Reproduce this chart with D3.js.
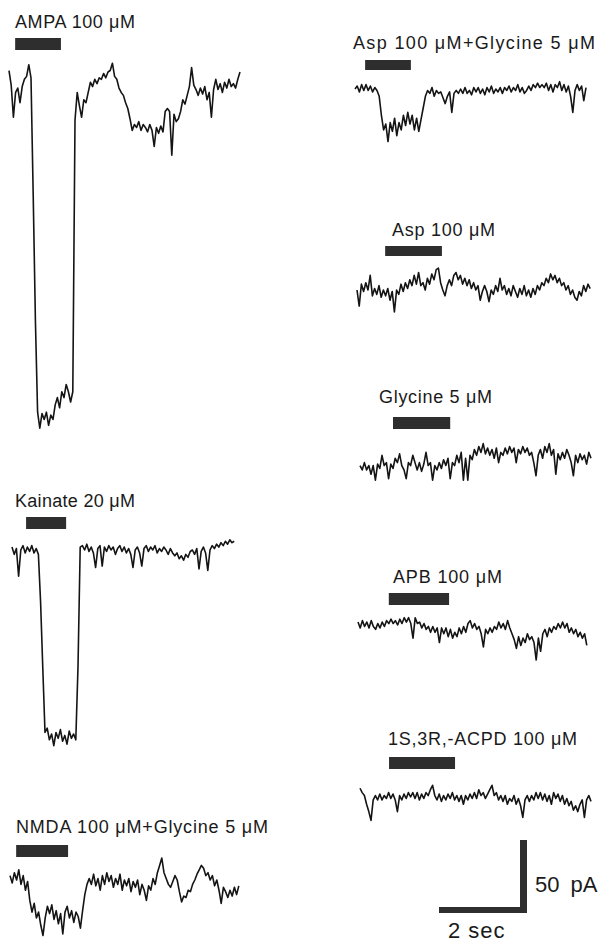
<!DOCTYPE html>
<html>
<head>
<meta charset="utf-8">
<script src="https://cdn.jsdelivr.net/npm/d3@7/dist/d3.min.js"></script>
<style>
  body { margin: 0; background: #fff; }
  .trace { fill: none; stroke: #141414; stroke-width: 1.6; stroke-linejoin: round; }
  .application { fill: #2e2e2e; }
  .scale-bar { fill: #2e2e2e; }
  .label { font-family: 'Liberation Sans', Arial, Helvetica, sans-serif; font-size: 18px; fill: #1a1a1a; }
  .scale-label { font-family: 'Liberation Sans', Arial, Helvetica, sans-serif; font-size: 22px; fill: #1a1a1a; }
</style>
</head>
<body>
<div id="chart"></div>
<script>
// Whole-cell currents, pA (inward = negative), one sample every 50 ms.
var SAMPLE_INTERVAL = 0.05;

var AMPA_TRACE = [1, -9, -31, -14, -11, -21, -10, -5, -3, 5,
  -4, -84, -170, -233, -244, -234, -238, -233, -242, -235,
  -238, -228, -223, -230, -219, -223, -214, -219, -226, -219,
  -33, -14, -23, -31, -19, -21, -14, -7, -10, -5,
  -8, -4, -5, -1, -4, 0, 1, 6, -3, -5,
  -11, -14, -16, -21, -25, -32, -40, -36, -38, -34,
  -40, -36, -38, -41, -36, -40, -51, -38, -42, -37,
  -41, -27, -25, -27, -57, -29, -34, -32, -27, -19,
  -22, -16, -10, 3, -9, -12, -16, -11, -15, -10,
  -19, -14, -31, -12, -5, -12, -8, -14, -7, -11,
  -5, -10, -8, -11, -5, 0];

var KAINATE_TRACE = [2, -3, 1, -18, 0, 3, -2, 2, -1, 3, -2, 1,
  -3, -36, -81, -125,
  -122, -130, -126, -134, -125, -129, -123, -131, -127, -133, -124, -129, -126, -130,
  -80, 2,
  3, 0, 4, -1, 2, -2, -12, 1, 3, -11,
  2, -1, 3, 0, 2, -3, 1, 3, -1, 2,
  -2, 1, -3, -12, 0, 2, -2, -11, 1, 3,
  -1, 2, 0, 3, -2, 1, -1, 2, 0, -3,
  1, -2, -4, -2, -6, -4, -7, -3, -5, -1,
  0, -3, 1, -13, -1, 2, -2, -14, 0, 3,
  1, 4, 2, 5, 3, 6, 4, 7, 5, 6];

var NMDA_TRACE = [3, -2, 5, 0, 7, -3, 3, -7, -1, -14,
  -22, -16, -26, -22, -31, -38, -26, -18, -23, -17,
  -27, -21, -30, -23, -37, -22, -18, -26, -21, -29,
  -22, -25, -33, -21, -10, -3, 1, -3, 4, -4,
  1, -7, 3, -3, 5, -1, 3, -5, 1, -3,
  4, -7, 0, -4, 1, -8, -1, -5, 0, -10,
  -3, -7, -14, -4, -7, 1, -3, 5, 10, 15,
  5, 1, -3, -5, -1, 3, 0, -8, -15, -11,
  -12, -7, -8, -3, 0, 4, 7, 10, 8, 3,
  5, 0, 3, -4, 0, -7, -16, -5, -8, -12,
  -7, -11, -5, -10, -4];

var ASP_GLY_TRACE = [0, 2, -2, 3, -1, 3, -1, 2, -2, 1,
  -1, -5, -18, -28, -24, -36, -23, -29, -20, -32,
  -23, -28, -18, -25, -16, -24, -18, -28, -20, -29,
  -21, -13, -5, -1, -3, 1, -5, -1, -3, -2,
  -6, -10, -5, -2, -16, -3, -1, -3, 0, -3,
  1, -3, -1, -4, 1, -2, 1, -3, 0, -4,
  1, -2, 2, -3, 0, -2, 1, -3, 1, -1,
  2, -2, 1, -1, 3, -2, 1, -3, -1, 2,
  -1, 3, 1, 4, 1, 3, 1, 4, -1, 3,
  -2, 3, 1, 5, -1, 3, -2, 2, -5, -16,
  -1, 3, -1, 2, -8, 1];

var ASP_TRACE = [0, -11, 4, -1, 5, 0, 10, -4, 1, -3,
  3, -5, 0, -4, 1, -7, -1, -15, 0, -3,
  4, -1, 5, 1, 7, 3, 10, 4, 12, 3,
  5, 0, 8, 4, 11, 7, 14, 15, 5, 0,
  -4, 3, 7, 3, 10, 12, 7, 10, 4, 8,
  3, 7, 1, 5, 0, 3, -7, -1, 3, -1,
  -8, 0, -3, 3, -1, 8, 0, 3, -3, 1,
  -4, 3, -1, -5, 1, -3, 3, -4, 0, -5,
  1, -3, 3, 0, 5, 3, 8, 5, 11, 7,
  10, 5, 8, 3, 5, 0, 3, -3, 0, -5,
  -7, -1, -4, 3, -1, 4, 1];

var GLYCINE_TRACE = [1, -2, 3, -2, 1, -5, 1, -9, 2, -1,
  8, 1, 3, -8, 2, -1, 6, 3, 9, 1,
  -2, -8, 3, 1, 8, 3, -2, 3, -3, 2,
  10, 1, 3, -9, 1, -2, 3, -1, 5, 1,
  6, -8, 3, 1, 8, 3, 10, -9, 6, -9,
  8, 5, 12, 8, 14, 10, 16, 9, 13, 8,
  12, 6, 13, 3, 10, 8, 13, 9, 14, 10,
  13, 3, 12, 9, 14, 10, 13, 8, 10, 3,
  -6, 8, 12, 6, 14, 10, 16, 8, 12, -5,
  9, 5, 10, 6, 12, 8, 3, -6, 8, 3,
  9, 5, 8, 2, 10, 6];

var APB_TRACE = [2, -2, 3, -1, 2, -2, 3, -1, -3, 1,
  -2, 2, -1, 3, 1, 4, 1, 3, 0, 4,
  1, 5, 2, 5, 1, -9, 5, 1, 2, -2,
  1, -3, -1, -5, -1, -5, -2, -12, -2, -6,
  -2, -8, -3, -9, -5, -8, -2, -6, -1, -5,
  1, 3, -2, 1, -3, -1, -6, -15, -3, -6,
  -2, -5, -1, -3, 2, -2, 1, -3, 3, -2,
  -6, -10, -16, -8, -14, -9, -12, -6, -10, -8,
  -12, -24, -9, -18, -6, -3, -8, -2, -5, -1,
  -3, 1, -2, 2, -2, 1, -5, -2, -6, -3,
  -8, -5, -9, -6, -14];

var ACPD_TRACE = [6, 3, 1, -5, -10, -16, -2, 1, -2, 2,
  -2, 1, -1, 3, -1, 2, -2, -10, 1, -2,
  2, -1, 3, 0, 3, -1, 3, -2, 2, -1,
  3, 1, 5, 8, 1, -2, 2, -3, 1, -2,
  2, -1, 3, -2, 1, -3, 1, -5, 1, -2,
  2, -1, 3, -1, 5, 1, 3, -1, 2, 5,
  8, 1, 3, -2, 1, -3, 1, -5, -1, -3,
  1, -5, -1, -6, -14, -2, 1, -3, 1, -2,
  3, -1, 3, -2, 2, -3, 1, -5, 3, -1,
  2, -3, 1, -5, -1, -6, -3, -9, -6, -10,
  -5, -2, -14, -2, 1, -3];

var TRACES = [AMPA_TRACE, KAINATE_TRACE, NMDA_TRACE, ASP_GLY_TRACE,
              ASP_TRACE, GLYCINE_TRACE, APB_TRACE, ACPD_TRACE];
var LABELS = ['AMPA 100 \u03bcM', 'Kainate 20 \u03bcM',
              'NMDA 100 \u03bcM+Glycine 5 \u03bcM',
              'Asp 100 \u03bcM+Glycine 5 \u03bcM', 'Asp 100 \u03bcM',
              'Glycine 5 \u03bcM', 'APB 100 \u03bcM',
              '1S,3R,-ACPD 100 \u03bcM'];
// Drug application window, seconds from the start of each sweep.
var APPLICATION_START = [0.14, 0.32, 0.14, 0.23, 0.64, 0.75, 0.70, 0.66];
var APPLICATION_END = [1.18, 1.23, 1.32, 1.27, 1.93, 2.05, 2.07, 2.16];
var SCALE_BAR_TIME = 2;     // sec
var SCALE_BAR_CURRENT = 50; // pA

// Page layout: sweep origin, label and application bar placement.
var PANELS = [
  {x: 9,   y: 72,  labelX: 15,  labelY: 28,  labelW: 120, barY: 38,  barH: 12},
  {x: 12,  y: 550, labelX: 15,  labelY: 507, labelW: 120, barY: 517, barH: 12},
  {x: 10,  y: 880, labelX: 16,  labelY: 833, labelW: 252, barY: 845, barH: 12},
  {x: 355, y: 89,  labelX: 353, labelY: 49,  labelW: 242, barY: 60,  barH: 10},
  {x: 357, y: 290, labelX: 392, labelY: 236, labelW: 103, barY: 246, barH: 10},
  {x: 360, y: 467, labelX: 379, labelY: 403, labelW: 113, barY: 417, barH: 12},
  {x: 358, y: 625, labelX: 393, labelY: 583, labelW: 109, barY: 593, barH: 12},
  {x: 360, y: 797, labelX: 388, labelY: 745, labelW: 189, barY: 757, barH: 12}
];
var SCALE_CORNER = [527, 913];

function DrawFigure(container_div) {
  var svg = d3.select(container_div).append('svg')
      .attr('width', 611)
      .attr('height', 952);

  var x = d3.scaleLinear().domain([0, 1]).range([0, 44]);
  var y = d3.scaleLinear().domain([0, SCALE_BAR_CURRENT]).range([0, -73]);

  var line = d3.line()
      .x((d, i) => x(i * SAMPLE_INTERVAL))
      .y((d) => y(d));

  var panels = svg.selectAll('.panel')
      .data(PANELS)
      .enter().append('g')
      .attr('class', 'panel');

  panels.append('text')
      .attr('class', 'label')
      .attr('x', (d) => d.labelX)
      .attr('y', (d) => d.labelY)
      .attr('textLength', (d) => d.labelW)
      .attr('lengthAdjust', 'spacing')
      .text((d, i) => LABELS[i]);

  panels.append('rect')
      .attr('class', 'application')
      .attr('x', (d, i) => d.x + x(APPLICATION_START[i]))
      .attr('y', (d) => d.barY)
      .attr('width', (d, i) => x(APPLICATION_END[i]) - x(APPLICATION_START[i]))
      .attr('height', (d) => d.barH);

  panels.append('path')
      .attr('class', 'trace')
      .attr('transform', (d) => 'translate(' + d.x + ',' + d.y + ')')
      .attr('d', (d, i) => line(TRACES[i]));

  // Calibration bars.
  var bar_w = x(SCALE_BAR_TIME), bar_h = -y(SCALE_BAR_CURRENT);
  var scale = svg.append('g');
  scale.append('rect')
      .attr('class', 'scale-bar')
      .attr('x', SCALE_CORNER[0] - bar_w)
      .attr('y', SCALE_CORNER[1] - 6)
      .attr('width', bar_w)
      .attr('height', 6);
  scale.append('rect')
      .attr('class', 'scale-bar')
      .attr('x', SCALE_CORNER[0] - 7)
      .attr('y', SCALE_CORNER[1] - bar_h)
      .attr('width', 7)
      .attr('height', bar_h);
  scale.append('text')
      .attr('class', 'scale-label')
      .attr('x', 535)
      .attr('y', 892)
      .style('word-spacing', '5px')
      .text(SCALE_BAR_CURRENT + ' pA');
  scale.append('text')
      .attr('class', 'scale-label')
      .attr('x', 448)
      .attr('y', 938)
      .style('letter-spacing', '1px')
      .text(SCALE_BAR_TIME + ' sec');
}

DrawFigure(document.getElementById('chart'));
</script>
</body>
</html>
